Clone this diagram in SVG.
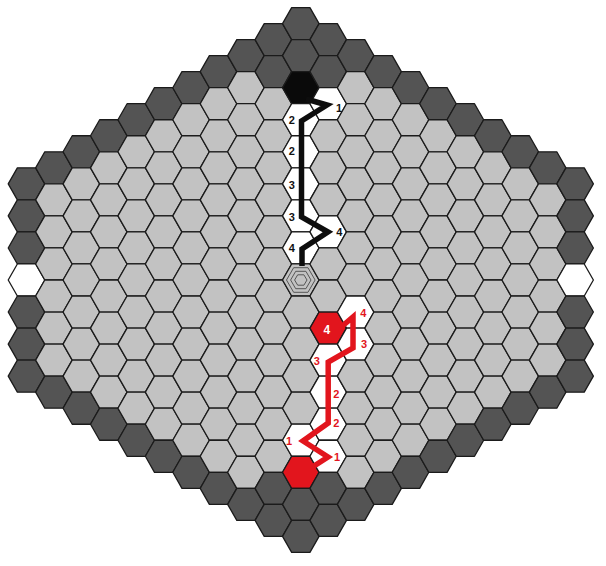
<svg xmlns="http://www.w3.org/2000/svg" width="606" height="566" viewBox="0 0 606 566">
<style>
.hx{stroke:#1b1b1b;stroke-width:1.3;stroke-linejoin:round;fill:#c2c2c2}
.d{fill:#545454}
.w{fill:#ffffff}
.k{fill:#0a0a0a}
.r{fill:#e2151d}
.ring{fill:none;stroke:#4a4a4a;stroke-width:0.9}
.cn{fill:none;stroke-width:5.5;stroke-linejoin:miter;stroke-miterlimit:10;stroke-linecap:butt}
.lb{font-family:"Liberation Sans",Arial,sans-serif;font-weight:bold;font-size:11px;text-anchor:middle}
</style>
<defs>
<path id="h" d="M-18.29 0L-9.14-16.03H9.14L18.29 0L9.14 16.03H-9.14Z"/>
<g id="c8"><use href="#h" class="d"/><use href="#h" y="32.05"/><use href="#h" y="64.1"/><use href="#h" y="96.15"/><use href="#h" y="128.2"/><use href="#h" y="160.25"/><use href="#h" y="192.3"/><use href="#h" y="224.35" class="d"/></g>
<g id="c9"><use href="#h" class="d"/><use href="#h" y="32.05"/><use href="#h" y="64.1"/><use href="#h" y="96.15"/><use href="#h" y="128.2"/><use href="#h" y="160.25"/><use href="#h" y="192.3"/><use href="#h" y="224.35"/><use href="#h" y="256.4" class="d"/></g>
<g id="c10"><use href="#h" class="d"/><use href="#h" y="32.05"/><use href="#h" y="64.1"/><use href="#h" y="96.15"/><use href="#h" y="128.2"/><use href="#h" y="160.25"/><use href="#h" y="192.3"/><use href="#h" y="224.35"/><use href="#h" y="256.4"/><use href="#h" y="288.45" class="d"/></g>
<g id="c11"><use href="#h" class="d"/><use href="#h" y="32.05"/><use href="#h" y="64.1"/><use href="#h" y="96.15"/><use href="#h" y="128.2"/><use href="#h" y="160.25"/><use href="#h" y="192.3"/><use href="#h" y="224.35"/><use href="#h" y="256.4"/><use href="#h" y="288.45"/><use href="#h" y="320.5" class="d"/></g>
<g id="c12"><use href="#h" class="d"/><use href="#h" y="32.05"/><use href="#h" y="64.1"/><use href="#h" y="96.15"/><use href="#h" y="128.2"/><use href="#h" y="160.25"/><use href="#h" y="192.3"/><use href="#h" y="224.35"/><use href="#h" y="256.4"/><use href="#h" y="288.45"/><use href="#h" y="320.5"/><use href="#h" y="352.55" class="d"/></g>
<g id="c13"><use href="#h" class="d"/><use href="#h" y="32.05"/><use href="#h" y="64.1"/><use href="#h" y="96.15"/><use href="#h" y="128.2"/><use href="#h" y="160.25"/><use href="#h" y="192.3"/><use href="#h" y="224.35"/><use href="#h" y="256.4"/><use href="#h" y="288.45"/><use href="#h" y="320.5"/><use href="#h" y="352.55"/><use href="#h" y="384.6" class="d"/></g>
<g id="c14"><use href="#h" class="d"/><use href="#h" y="32.05"/><use href="#h" y="64.1"/><use href="#h" y="96.15"/><use href="#h" y="128.2"/><use href="#h" y="160.25"/><use href="#h" y="192.3"/><use href="#h" y="224.35"/><use href="#h" y="256.4"/><use href="#h" y="288.45"/><use href="#h" y="320.5"/><use href="#h" y="352.55"/><use href="#h" y="384.6"/><use href="#h" y="416.65" class="d"/></g>
<g id="c15"><use href="#h" class="d"/><use href="#h" y="32.05"/><use href="#h" y="64.1"/><use href="#h" y="96.15"/><use href="#h" y="128.2"/><use href="#h" y="160.25"/><use href="#h" y="192.3"/><use href="#h" y="224.35"/><use href="#h" y="256.4"/><use href="#h" y="288.45"/><use href="#h" y="320.5"/><use href="#h" y="352.55"/><use href="#h" y="384.6"/><use href="#h" y="416.65"/><use href="#h" y="448.7" class="d"/></g>
</defs>
<rect width="606" height="566" fill="#ffffff"/>
<g id="board" class="hx">
<g id="col-m10" transform="translate(26.5 183.85)"><use href="#h" class="d"/><use href="#h" y="32.05" class="d"/><use href="#h" y="64.1" class="d"/><use href="#h" y="96.15" class="w"/><use href="#h" y="128.2" class="d"/><use href="#h" y="160.25" class="d"/><use href="#h" y="192.3" class="d"/></g>
<use href="#c8" x="53.93" y="167.825"/>
<use href="#c9" x="81.36" y="151.8"/>
<use href="#c10" x="108.79" y="135.775"/>
<use href="#c11" x="136.22" y="119.75"/>
<use href="#c12" x="163.65" y="103.725"/>
<use href="#c13" x="191.08" y="87.7"/>
<use href="#c14" x="218.51" y="71.675"/>
<use href="#c15" x="245.94" y="55.65"/>
<g id="col-m1" transform="translate(273.37 39.625)"><use href="#h" class="d"/><use href="#h" y="32.05" class="d"/><use href="#h" y="64.1"/><use href="#h" y="96.15"/><use href="#h" y="128.2"/><use href="#h" y="160.25"/><use href="#h" y="192.3"/><use href="#h" y="224.35"/><use href="#h" y="256.4"/><use href="#h" y="288.45"/><use href="#h" y="320.5"/><use href="#h" y="352.55"/><use href="#h" y="384.6"/><use href="#h" y="416.65"/><use href="#h" y="448.7" class="d"/><use href="#h" y="480.75" class="d"/></g>
<g id="col-0" transform="translate(300.8 23.6)"><use href="#h" class="d"/><use href="#h" y="32.05" class="d"/><use id="black-start" href="#h" y="64.1" class="k"/><use href="#h" y="96.15" class="w"/><use href="#h" y="128.2" class="w"/><use href="#h" y="160.25" class="w"/><use href="#h" y="192.3" class="w"/><use href="#h" y="224.35" class="w"/><use id="target" href="#h" y="256.4"/><use href="#h" y="288.45"/><use href="#h" y="320.5"/><use href="#h" y="352.55"/><use href="#h" y="384.6"/><use href="#h" y="416.65" class="w"/><use id="red-start" href="#h" y="448.7" class="r"/><use href="#h" y="480.75" class="d"/><use href="#h" y="512.8" class="d"/></g>
<g id="col-1" transform="translate(328.23 39.625)"><use href="#h" class="d"/><use href="#h" y="32.05" class="d"/><use href="#h" y="64.1" class="w"/><use href="#h" y="96.15"/><use href="#h" y="128.2"/><use href="#h" y="160.25"/><use href="#h" y="192.3" class="w"/><use href="#h" y="224.35"/><use href="#h" y="256.4"/><use id="red-end" href="#h" y="288.45" class="r"/><use href="#h" y="320.5" class="w"/><use href="#h" y="352.55" class="w"/><use href="#h" y="384.6" class="w"/><use href="#h" y="416.65" class="w"/><use href="#h" y="448.7" class="d"/><use href="#h" y="480.75" class="d"/></g>
<g id="col-2" transform="translate(355.66 55.65)"><use href="#h" class="d"/><use href="#h" y="32.05"/><use href="#h" y="64.1"/><use href="#h" y="96.15"/><use href="#h" y="128.2"/><use href="#h" y="160.25"/><use href="#h" y="192.3"/><use href="#h" y="224.35"/><use href="#h" y="256.4" class="w"/><use href="#h" y="288.45" class="w"/><use href="#h" y="320.5"/><use href="#h" y="352.55"/><use href="#h" y="384.6"/><use href="#h" y="416.65"/><use href="#h" y="448.7" class="d"/></g>
<use href="#c14" x="383.09" y="71.675"/>
<use href="#c13" x="410.52" y="87.7"/>
<use href="#c12" x="437.95" y="103.725"/>
<use href="#c11" x="465.38" y="119.75"/>
<use href="#c10" x="492.81" y="135.775"/>
<use href="#c9" x="520.24" y="151.8"/>
<use href="#c8" x="547.67" y="167.825"/>
<g id="col-10" transform="translate(575.1 183.85)"><use href="#h" class="d"/><use href="#h" y="32.05" class="d"/><use href="#h" y="64.1" class="d"/><use href="#h" y="96.15" class="w"/><use href="#h" y="128.2" class="d"/><use href="#h" y="160.25" class="d"/><use href="#h" y="192.3" class="d"/></g>
</g>
<g id="target-rings" transform="translate(300.8 280)">
<path class="ring" d="M-14.3 0L-7.15-12.3H7.15L14.3 0L7.15 12.3H-7.15Z"/>
<path class="ring" d="M-10.2 0L-5.1-8.7H5.1L10.2 0L5.1 8.7H-5.1Z"/>
<path class="ring" d="M-6.2 0L-3.1-5.2H3.1L6.2 0L3.1 5.2H-3.1Z"/>
</g>
<g id="connectors">
<polyline class="cn" stroke="#0d0d0d" points="306,99 327,105 301.5,121 301.5,217 328,232 302,249 302,266"/>
<polyline class="cn" stroke="#e2151d" points="314,466 328,457 303,441 328.2,423 328.2,362 353,348 353,317 340,328"/>
</g>
<g id="labels" class="lb">
<g fill="#111111">
<text x="339" y="112">1</text>
<text x="291.7" y="124">2</text>
<text x="291.7" y="154.7">2</text>
<text x="291.7" y="189">3</text>
<text x="291.7" y="221.3">3</text>
<text x="291.7" y="252.3">4</text>
<text x="339.3" y="236">4</text>
</g>
<g fill="#e2151d">
<text x="289" y="445">1</text>
<text x="337" y="461.3">1</text>
<text x="336.3" y="398">2</text>
<text x="336.3" y="427.3">2</text>
<text x="316.7" y="364.7">3</text>
<text x="364" y="348">3</text>
<text x="363.3" y="317.3">4</text>
</g>
<text x="326.8" y="333.6" fill="#ffffff" font-size="12">4</text>
</g>
</svg>
